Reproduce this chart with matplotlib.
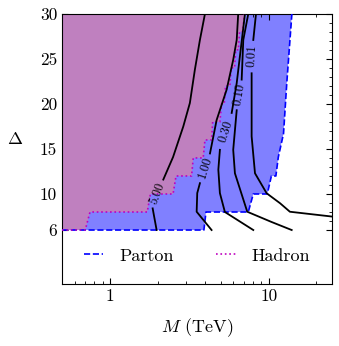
import numpy as np
import matplotlib
matplotlib.use('Agg')
import matplotlib.pyplot as plt
from matplotlib.ticker import FixedLocator, FixedFormatter, NullFormatter

plt.rcParams['font.family'] = 'serif'
plt.rcParams['font.serif'] = ['cmr10', 'DejaVu Serif']
plt.rcParams['mathtext.fontset'] = 'cm'
plt.rcParams['axes.unicode_minus'] = False

# Exclusion boundaries (M in TeV, Delta)
parton_M = [0.5, 3.91, 4.03, 7.44, 8.0, 9.8, 10.4, 11.1, 11.5, 12.4, 13.0, 14.0]
parton_D = [6, 6, 8, 8, 10, 10, 12, 12, 14.1, 16.7, 22.3, 30]

hadron_M = [0.5, 0.70, 0.75, 1.72, 1.80, 2.50, 2.61, 3.27, 3.35, 3.87, 3.97, 4.37,
            4.44, 4.93, 5.05, 5.25, 5.35, 5.7, 5.8, 6.1, 6.2, 6.45, 6.55, 6.85, 7.05]
hadron_D = [6, 6, 8, 8, 10, 10, 12, 12, 14, 14, 16, 16,
            18, 18, 20, 20, 22, 22, 24, 24, 26, 26, 28, 28, 30]

# Contour lines (NaN marks where the inline label sits)
contours = {
    '5.00': ([1.97, 1.86, np.nan, 2.17, 2.50, 2.90, 3.19, 3.43, 3.69, 3.97],
             [6.0, 8.4, np.nan, 11.6, 14.1, 17.5, 20.1, 23.8, 27.1, 30]),
    '1.00': ([4.37, 3.52, 3.55, 3.69, np.nan, 4.27, 4.70, 5.44, 5.98, 6.29, 6.43],
             [6.0, 8.03, 10.1, 11.2, np.nan, 14.5, 18.2, 21.6, 24.9, 27.1, 30]),
    '0.30': ([8.0, 5.3, 4.93, 4.82, 4.93, np.nan, 5.85, 6.29, 6.59, 7.09],
             [6.0, 8.0, 10.1, 12.7, 14.9, np.nan, 19.0, 22.3, 25.3, 30]),
    '0.10': ([13.96, 10.4, 7.33, 6.13, 5.98, 6.29, np.nan, 6.76, 6.92, 7.44],
             [6.0, 6.9, 8.03, 12.3, 14.9, 19.3, np.nan, 22.7, 27.1, 30]),
    '0.01': ([24.9, 13.6, 11.8, 9.71, 8.20, 7.81, 7.81, np.nan, 8.0, 8.32],
             [7.5, 8.03, 8.97, 10.08, 12.3, 16.4, 23.4, np.nan, 27.1, 30]),
}
label_pos = {'5.00': (2.0, 10.0, 69), '1.00': (3.97, 12.9, 72),
             '0.30': (5.37, 16.9, 72), '0.10': (6.52, 21.0, 80),
             '0.01': (7.9, 25.3, 87)}

fig = plt.figure(figsize=(3.39, 3.46), dpi=100)
ax = fig.add_axes([0.183, 0.179, 0.796, 0.781])

ax.fill(parton_M + [0.5], parton_D + [30], color='#8080ff', lw=0, zorder=1)
ax.fill(hadron_M + [0.5], hadron_D + [30], color='#bf80bf', lw=0, zorder=2)
ax.plot(parton_M, parton_D, color='b', ls='--', lw=1.2, zorder=3, label='Parton')
ax.plot(hadron_M, hadron_D, color='m', ls=':', lw=1.2, zorder=4, label='Hadron')

for lab, (xs, ys) in contours.items():
    ax.plot(xs, ys, color='k', lw=1.3, zorder=5)
    lx, ly, rot = label_pos[lab]
    ax.text(lx, ly, lab, rotation=rot, ha='center', va='center',
            rotation_mode='anchor', fontsize=9, zorder=6)

ax.set_xscale('log')
ax.set_xlim(0.5, 25)
ax.set_ylim(0, 30)

ax.xaxis.set_major_locator(FixedLocator([1, 10]))
ax.xaxis.set_major_formatter(FixedFormatter(['1', '10']))
ax.xaxis.set_minor_locator(FixedLocator([0.5, 0.6, 0.7, 0.8, 0.9, 2, 3, 4, 5, 6, 7, 8, 9, 20]))
ax.xaxis.set_minor_formatter(NullFormatter())
ax.yaxis.set_major_locator(FixedLocator([6, 10, 15, 20, 25, 30]))
ax.yaxis.set_minor_locator(FixedLocator([v for v in range(7, 30) if v not in (10, 15, 20, 25)]))
ax.tick_params(which='both', direction='in', top=True, right=True, labelsize=12.5)
ax.tick_params(which='major', length=4.5, width=0.8)
ax.tick_params(which='minor', length=2.5, width=0.6)

ax.set_xlabel('$M$ (TeV)', fontsize=13, va='center')
ax.xaxis.set_label_coords(0.5, -0.16)
ax.set_ylabel(r'$\Delta$', fontsize=13, rotation=0, va='center', ha='center')
ax.yaxis.set_label_coords(-0.174, 0.535)

ax.legend(loc='center', bbox_to_anchor=(0.5, 0.104), ncol=2, frameon=False,
          fontsize=13, handlelength=1.1, handletextpad=0.9, columnspacing=2.3)

fig.savefig('out.png', dpi=100)
